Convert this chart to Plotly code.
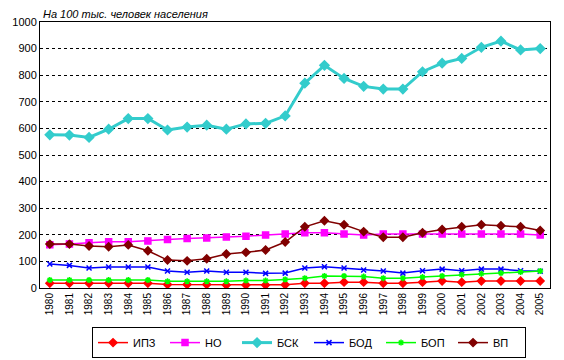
import plotly.graph_objects as go

years = [str(y) for y in range(1980, 2006)]

ipz = [18, 18, 18, 18, 18, 18, 13, 13, 13, 11, 11, 11, 12, 18, 18, 22, 22, 18, 18, 22, 26, 22, 26, 26, 26, 26]
no = [163, 165, 170, 174, 174, 177, 182, 186, 188, 192, 195, 199, 203, 208, 208, 203, 199, 203, 203, 203, 203, 203, 203, 203, 203, 199]
bsk = [576, 575, 566, 597, 637, 637, 594, 605, 612, 597, 617, 619, 647, 770, 837, 788, 758, 748, 748, 813, 845, 863, 905, 928, 895, 900]
bod = [90, 85, 75, 79, 79, 79, 64, 59, 64, 59, 59, 55, 56, 75, 80, 75, 68, 64, 56, 65, 71, 65, 71, 71, 65, 63]
bop = [30, 30, 30, 30, 30, 30, 25, 25, 25, 25, 28, 28, 32, 37, 45, 45, 43, 37, 37, 41, 45, 50, 54, 56, 60, 64]
vp = [165, 165, 158, 155, 162, 140, 105, 102, 110, 128, 134, 143, 173, 230, 253, 238, 212, 191, 191, 208, 220, 230, 238, 234, 230, 216]

series = [
    ("ИПЗ", ipz, "#FF0000", 1.5, "diamond", 6),
    ("НО", no, "#FF00FF", 1.5, "square", 6),
    ("БСК", bsk, "#33CCCC", 3, "diamond", 7),
    ("БОД", bod, "#0000FF", 1.5, "x-thin-open", 5),
    ("БОП", bop, "#00FF00", 1.5, "asterisk-open", 5),
    ("ВП", vp, "#800000", 1.5, "diamond", 6),
]

fig = go.Figure()
for name, vals, color, lw, sym, ms in series:
    fig.add_trace(go.Scatter(
        x=years, y=vals, name=name, mode="lines+markers",
        line=dict(color=color, width=lw),
        marker=dict(symbol=sym, size=ms, color=color, line=dict(color=color, width=1.5)),
    ))

fig.update_layout(
    width=564, height=360,
    margin=dict(l=40, r=14, t=22, b=72, autoexpand=False),
    paper_bgcolor="white", plot_bgcolor="white",
    font=dict(family="Liberation Sans, Arial", size=11, color="black"),
    showlegend=True,
    legend=dict(
        orientation="h", x=0.102, xanchor="left", y=-0.147, yanchor="top",
        bordercolor="black", borderwidth=1, font=dict(size=11),
        entrywidth=27, entrywidthmode="pixels", itemwidth=30,
        traceorder="normal", tracegroupgap=0,
    ),
    xaxis=dict(
        type="category", tickangle=-90, tickfont=dict(size=10),
        showline=True, linecolor="black", linewidth=1, mirror=True,
        showgrid=False, ticks="", range=[-0.5, 25.5], automargin=False,
    ),
    yaxis=dict(
        range=[0, 1000], dtick=100, tickfont=dict(size=11),
        showline=True, linecolor="black", linewidth=1, mirror=True,
        showgrid=True, gridcolor="black", griddash="3px,3px", gridwidth=1,
        zeroline=False, ticks="", automargin=False,
    ),
    annotations=[dict(
        text="<i>На 100 тыс. человек населения</i>", xref="paper", yref="paper",
        x=0.0, y=1.0, xanchor="left", yanchor="bottom", showarrow=False,
        font=dict(size=11), xshift=1, yshift=0,
    )],
)

fig.write_html("out.html", config={"displayModeBar": False},
               post_script="document.body.style.margin='0';")
